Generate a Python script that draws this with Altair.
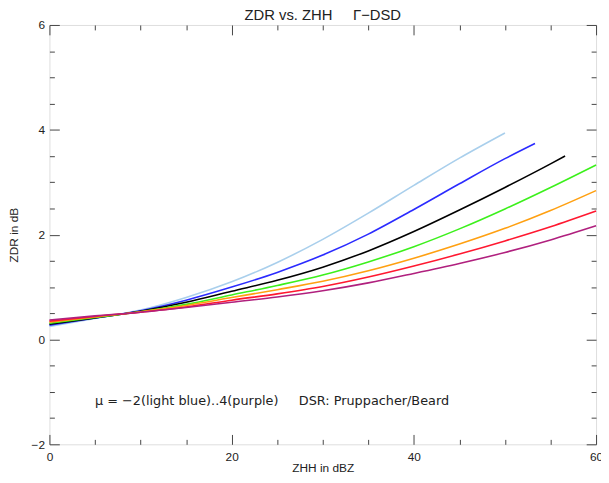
import altair as alt
import pandas as pd

# ---- data ----
MU = ["-2", "-1", "0", "1", "2", "3", "4"]
COLORS = ["#a9cfec", "#2b2bff", "#000000", "#3cf01c", "#ffa011", "#ff1830", "#b0207e"]

ZHH_LIGHTBLUE = [0, 5, 10, 15, 20, 25, 30, 35, 40, 45, 50]
ZHH_BLUE = [0, 5, 10, 15, 20, 25, 30, 35, 40, 45, 50, 53.3]
ZHH_BLACK = [0, 5, 10, 15, 20, 25, 30, 35, 40, 45, 50, 55, 56.6]
ZHH_FULL = [0, 5, 10, 15, 20, 25, 30, 35, 40, 45, 50, 55, 60]

ZDR_LIGHTBLUE = [0.25, 0.40, 0.56, 0.80, 1.10, 1.47, 1.91, 2.41, 2.94, 3.46, 3.94]
ZDR_BLUE = [0.27, 0.41, 0.55, 0.75, 1.00, 1.28, 1.61, 2.01, 2.48, 2.97, 3.45, 3.74]
ZDR_BLACK = [0.29, 0.41, 0.54, 0.71, 0.92, 1.13, 1.38, 1.69, 2.06, 2.47, 2.90, 3.35, 3.50]
ZDR_GREEN = [0.31, 0.42, 0.53, 0.67, 0.85, 1.03, 1.23, 1.48, 1.77, 2.11, 2.49, 2.90, 3.33]
ZDR_ORANGE = [0.33, 0.43, 0.53, 0.65, 0.80, 0.95, 1.11, 1.31, 1.55, 1.82, 2.12, 2.46, 2.84]
ZDR_RED = [0.35, 0.44, 0.52, 0.62, 0.75, 0.87, 1.01, 1.19, 1.40, 1.63, 1.88, 2.15, 2.45]
ZDR_PURPLE = [0.37, 0.45, 0.52, 0.61, 0.71, 0.81, 0.93, 1.08, 1.26, 1.45, 1.66, 1.90, 2.17]

X_MAJOR = [0, 20, 40, 60]
X_MINOR = [5, 10, 15, 25, 30, 35, 45, 50, 55]
Y_MAJOR = [-2, 0, 2, 4, 6]
Y_MINOR = [-1.5, -1, -0.5, 0.5, 1, 1.5, 2.5, 3, 3.5, 4.5, 5, 5.5]

ANNOT_TEXT = ["\u03bc = \u22122(light blue)..4(purple)\u00a0\u00a0\u00a0\u00a0\u00a0DSR: Pruppacher/Beard"]
ANNOT_X = [5.0]
ANNOT_Y = [-1.17]

TITLE = "ZDR vs. ZHH\u00a0\u00a0\u00a0\u00a0\u00a0\u0393\u2212DSD"

# ---- build table ----
series = [
    (ZHH_LIGHTBLUE, ZDR_LIGHTBLUE),
    (ZHH_BLUE, ZDR_BLUE),
    (ZHH_BLACK, ZDR_BLACK),
    (ZHH_FULL, ZDR_GREEN),
    (ZHH_FULL, ZDR_ORANGE),
    (ZHH_FULL, ZDR_RED),
    (ZHH_FULL, ZDR_PURPLE),
]
rows = []
for i, (xs, ys) in enumerate(series):
    for xv, yv in zip(xs, ys):
        rows.append({"zhh": xv, "zdr": yv, "mu": MU[i], "k": i})
df = pd.DataFrame(rows)
annot = pd.DataFrame({"zhh": ANNOT_X, "zdr": ANNOT_Y, "txt": ANNOT_TEXT})

W, H = 554, 425
FONT = "Liberation Sans"
TFONT = "DejaVu Sans"
INK = "#222222"
TICK = "#444444"

xscale = alt.Scale(domain=[0, 60], nice=False, zero=False)
yscale = alt.Scale(domain=[-2, 6], nice=False, zero=False)

lines = alt.Chart(df).mark_line(strokeWidth=1.6, interpolate="monotone").encode(
    x=alt.X("zhh:Q", scale=xscale,
            axis=alt.Axis(orient="bottom", values=X_MAJOR, format="d", ticks=False, tickSize=0,
                          domain=False, grid=False, title="ZHH in dBZ", labelFlush=False,
                          labelFont=FONT, labelFontSize=12, labelColor=INK, labelPadding=7,
                          titleFont=FONT, titleFontSize=12, titleFontWeight="normal",
                          titleColor=INK, titlePadding=1)),
    y=alt.Y("zdr:Q", scale=yscale,
            axis=alt.Axis(orient="left", values=Y_MAJOR, format="d", ticks=False, tickSize=0,
                          domain=False, grid=False, title="ZDR in dB", labelFlush=False,
                          labelFont=FONT, labelFontSize=12, labelColor=INK, labelPadding=5,
                          titleFont=FONT, titleFontSize=12, titleFontWeight="normal",
                          titleColor=INK, titlePadding=11)),
    color=alt.Color("mu:N", scale=alt.Scale(domain=MU, range=COLORS), legend=None),
    order=alt.Order("k:Q"),
)


def tick_layer(xvals, yvals, xorient, yorient, size):
    return alt.Chart(df).mark_point(opacity=0).encode(
        x=alt.X("zhh:Q", scale=xscale,
                axis=alt.Axis(orient=xorient, offset=-H, values=xvals, tickSize=size,
                              tickColor=TICK, tickWidth=1, labels=False, domain=False,
                              grid=False, title=None)),
        y=alt.Y("zdr:Q", scale=yscale,
                axis=alt.Axis(orient=yorient, offset=-W, values=yvals, tickSize=size,
                              tickColor=TICK, tickWidth=1, labels=False, domain=False,
                              grid=False, title=None)),
    )


text = alt.Chart(annot).mark_text(align="left", baseline="middle", font=TFONT,
                                  fontSize=13, color=INK).encode(
    x=alt.X("zhh:Q", scale=xscale, axis=None),
    y=alt.Y("zdr:Q", scale=yscale, axis=None),
    text="txt:N",
)

chart = alt.layer(
    lines,
    tick_layer(X_MAJOR, Y_MAJOR, "top", "right", 10),
    tick_layer(X_MAJOR, Y_MAJOR, "bottom", "left", 10),
    tick_layer(X_MINOR, Y_MINOR, "top", "right", 5),
    tick_layer(X_MINOR, Y_MINOR, "bottom", "left", 5),
    text,
).resolve_axis(x="independent", y="independent").properties(
    width=W,
    height=H,
    title=alt.TitleParams(text=TITLE, font=FONT, fontSize=15, fontWeight="normal",
                          color=INK, anchor="middle", frame="group", offset=4, dy=8),
    autosize=alt.AutoSizeParams(type="none"),
    padding={"left": 42, "top": 14, "right": 5, "bottom": 36},
).configure_view(stroke="#333333", strokeWidth=1).configure(background="white")

chart.save("out.html", embed_options={"renderer": "svg", "actions": False})
